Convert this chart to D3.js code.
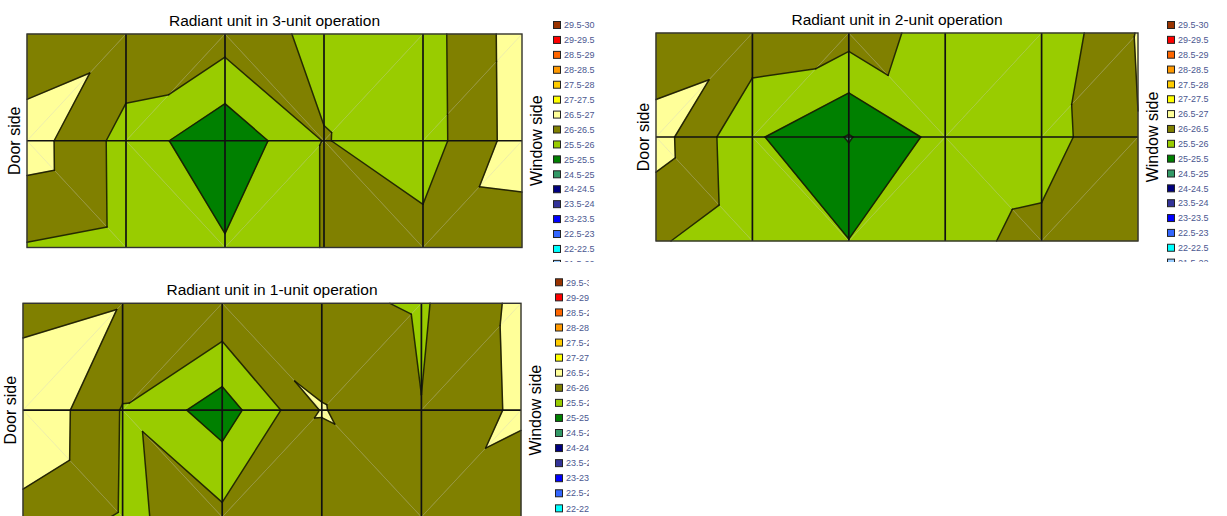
<!DOCTYPE html>
<html>
<head>
<meta charset="utf-8">
<script src="https://cdn.jsdelivr.net/npm/d3@7"></script>
<style>
  body { margin: 0; background: #fff; }
  svg { display: block; }
</style>
</head>
<body>
<svg id="chart" width="1227" height="516"></svg>
<script>
// node temperatures (deg C), 6 columns (door -> window) x 3 rows (top, middle, bottom)
var titles = ["Radiant unit in 3-unit operation", "Radiant unit in 2-unit operation", "Radiant unit in 1-unit operation"];

var temps3unit = [
  [26.09, 26.35, 26.25, 25.88, 25.76, 26.76],
  [26.76, 25.81, 25.10, 26.02, 25.75, 26.75],
  [25.96, 25.82, 25.56, 26.02, 26.17, 26.23]
];
var temps2unit = [
  [26.11, 26.32, 26.22, 25.82, 25.58, 26.53],
  [26.72, 25.58, 24.97, 25.68, 25.76, 26.49],
  [26.07, 25.62, 25.51, 25.84, 26.14, 26.20]
];
var temps1unit = [
  [26.27, 26.47, 26.42, 26.13, 25.94, 26.63],
  [26.98, 25.97, 25.24, 26.53, 26.01, 26.61],
  [26.33, 25.955, 26.12, 26.10, 26.30, 26.03]
];

// triangulation of each grid cell ("/" or "\")
var diagTop = ["/", "/", "\\", "/", "/"];
var diagBottom = ["\\", "\\", "/", "\\", "/"];

// legend bands
var legendLabels = ["29.5-30", "29-29.5", "28.5-29", "28-28.5", "27.5-28", "27-27.5", "26.5-27", "26-26.5",
  "25.5-26", "25-25.5", "24.5-25", "24-24.5", "23.5-24", "23-23.5", "22.5-23", "22-22.5", "21.5-22"];
var legendColors = ["#993300", "#ff0000", "#ff6600", "#ff9900", "#ffcc00", "#ffff00", "#ffff99", "#808000",
  "#99cc00", "#008000", "#339966", "#000080", "#333399", "#0000ff", "#3366ff", "#00ffff", "#99ccff"];
var bandLows = [29.5, 29, 28.5, 28, 27.5, 27, 26.5, 26, 25.5, 25, 24.5, 24, 23.5, 23, 22.5, 22, 21.5];

//==================
var svg = d3.select("#chart");
var font = "'Liberation Sans', Arial, sans-serif";

var thresholds = bandLows.slice(0, -1).reverse();          // 22 ... 29.5
var colour = d3.scaleThreshold()
  .domain(thresholds)
  .range(legendColors.slice().reverse());

var panels = [
  { temps: temps3unit, title: titles[0], x0: 27, x1: 522, y0: 34, y1: 247.5, legX: 553, legY: 25, legStep: 14.93, clip: [540, 0, 90, 262] },
  { temps: temps2unit, title: titles[1], x0: 656, x1: 1138, y0: 33, y1: 241, legX: 1167, legY: 25, legStep: 14.85, clip: [1155, 0, 72, 262] },
  { temps: temps1unit, title: titles[2], x0: 23, x1: 521, y0: 303.3, y1: 517, legX: 555, legY: 282.3, legStep: 15.07, clip: [540, 270, 49, 246] }
];

// build triangles of a panel in grid units
function triangles(temps) {
  var tris = [];
  function node(i, j) { return { u: i, v: j, t: temps[j][i] }; }
  for (var r = 0; r < 2; r++) {
    for (var i = 0; i < 5; i++) {
      var d = r == 0 ? diagTop[i] : diagBottom[i];
      var TL = node(i, r), TR = node(i + 1, r), BL = node(i, r + 1), BR = node(i + 1, r + 1);
      if (d == "/") {
        tris.push({ pts: [TL, BL, TR], diag: [BL, TR] });
        tris.push({ pts: [BL, TR, BR], diag: null });
      } else {
        tris.push({ pts: [TL, TR, BR], diag: [TL, BR] });
        tris.push({ pts: [TL, BL, BR], diag: null });
      }
    }
  }
  return tris;
}

function lerp(p, q, level) {
  var f = (level - p.t) / (q.t - p.t);
  return { u: p.u + f * (q.u - p.u), v: p.v + f * (q.v - p.v), t: level };
}

// keep the part of a polygon above (or below) a level
function clipPoly(poly, level, above) {
  var out = [];
  for (var k = 0; k < poly.length; k++) {
    var p = poly[k], q = poly[(k + 1) % poly.length];
    var pin = above ? p.t >= level : p.t <= level;
    var qin = above ? q.t >= level : q.t <= level;
    if (pin) out.push(p);
    if (pin != qin) out.push(lerp(p, q, level));
  }
  return out;
}

panels.forEach(function(P) {
  var x = d3.scaleLinear().domain([0, 5]).range([P.x0, P.x1]);
  var y = d3.scaleLinear().domain([0, 2]).range([P.y0, P.y1]);
  var line = d3.line().x(function(d) { return x(d.u); }).y(function(d) { return y(d.v); });

  var g = svg.append("g");
  var tris = triangles(P.temps);

  // filled bands
  var fills = g.append("g");
  tris.forEach(function(tri) {
    bandLows.forEach(function(lo) {
      var poly = clipPoly(tri.pts, lo, true);
      if (lo < 29.5) poly = clipPoly(poly, lo + 0.5, false);
      if (poly.length < 3) return;
      var c = colour(lo + 0.25);
      fills.append("path")
        .attr("d", line(poly) + "Z")
        .attr("fill", c)
        .attr("stroke", c)
        .attr("stroke-width", 0.6);
    });
  });

  // faint triangulation lines
  tris.forEach(function(tri) {
    if (!tri.diag) return;
    g.append("path")
      .attr("d", line(tri.diag))
      .attr("stroke", "#c4c4c4")
      .attr("stroke-opacity", 0.3)
      .attr("stroke-width", 1);
  });

  // contour lines
  var levels = bandLows.slice(0, -1);
  tris.forEach(function(tri) {
    levels.forEach(function(level) {
      var seg = [];
      for (var k = 0; k < 3; k++) {
        var p = tri.pts[k], q = tri.pts[(k + 1) % 3];
        if ((p.t - level) * (q.t - level) < 0) seg.push(lerp(p, q, level));
      }
      if (seg.length == 2) {
        g.append("path")
          .attr("d", line(seg))
          .attr("stroke", "#141400")
          .attr("stroke-opacity", 0.88)
          .attr("stroke-width", 1.5)
          .attr("stroke-linecap", "round")
          .attr("fill", "none");
      }
    });
  });

  // grid lines
  d3.range(1, 5).forEach(function(i) {
    g.append("line")
      .attr("x1", x(i)).attr("x2", x(i))
      .attr("y1", y(0)).attr("y2", y(2))
      .attr("stroke", "#111").attr("stroke-width", 1.7);
  });
  g.append("line")
    .attr("x1", x(0)).attr("x2", x(5))
    .attr("y1", y(1)).attr("y2", y(1))
    .attr("stroke", "#111").attr("stroke-width", 1.7);
  g.append("rect")
    .attr("x", x(0)).attr("y", y(0))
    .attr("width", x(5) - x(0)).attr("height", y(2) - y(0))
    .attr("fill", "none").attr("stroke", "#333").attr("stroke-width", 1.4);

  // texts
  var cx = (P.x0 + P.x1) / 2, cy = y(1);
  svg.append("text")
    .attr("x", cx).attr("y", P.y0 - 8.5)
    .attr("text-anchor", "middle")
    .attr("font-family", font).attr("font-size", 15.5)
    .text(P.title);
  svg.append("text")
    .attr("transform", "translate(" + (P.x0 - 7) + "," + cy + ") rotate(-90)")
    .attr("text-anchor", "middle")
    .attr("font-family", font).attr("font-size", 16)
    .text("Door side");
  svg.append("text")
    .attr("transform", "translate(" + (P.x1 + 20) + "," + cy + ") rotate(-90)")
    .attr("text-anchor", "middle")
    .attr("font-family", font).attr("font-size", 16)
    .text("Window side");

  // legend
  var clipId = "clip" + P.legX + "_" + Math.round(P.legY);
  svg.append("clipPath").attr("id", clipId)
    .append("rect")
    .attr("x", P.clip[0]).attr("y", P.clip[1])
    .attr("width", P.clip[2]).attr("height", P.clip[3]);
  var leg = svg.append("g").attr("clip-path", "url(#" + clipId + ")");
  legendLabels.forEach(function(lab, k) {
    var ly = P.legY + k * P.legStep;
    leg.append("rect")
      .attr("x", P.legX + 0.5).attr("y", ly - 3.5)
      .attr("width", 7).attr("height", 7)
      .attr("fill", legendColors[k])
      .attr("stroke", "#222").attr("stroke-width", 1);
    leg.append("text")
      .attr("x", P.legX + 11).attr("y", ly + 3.2)
      .attr("font-family", font).attr("font-size", 9)
      .attr("fill", "#4b5790")
      .text(lab);
  });
});
</script>
</body>
</html>
